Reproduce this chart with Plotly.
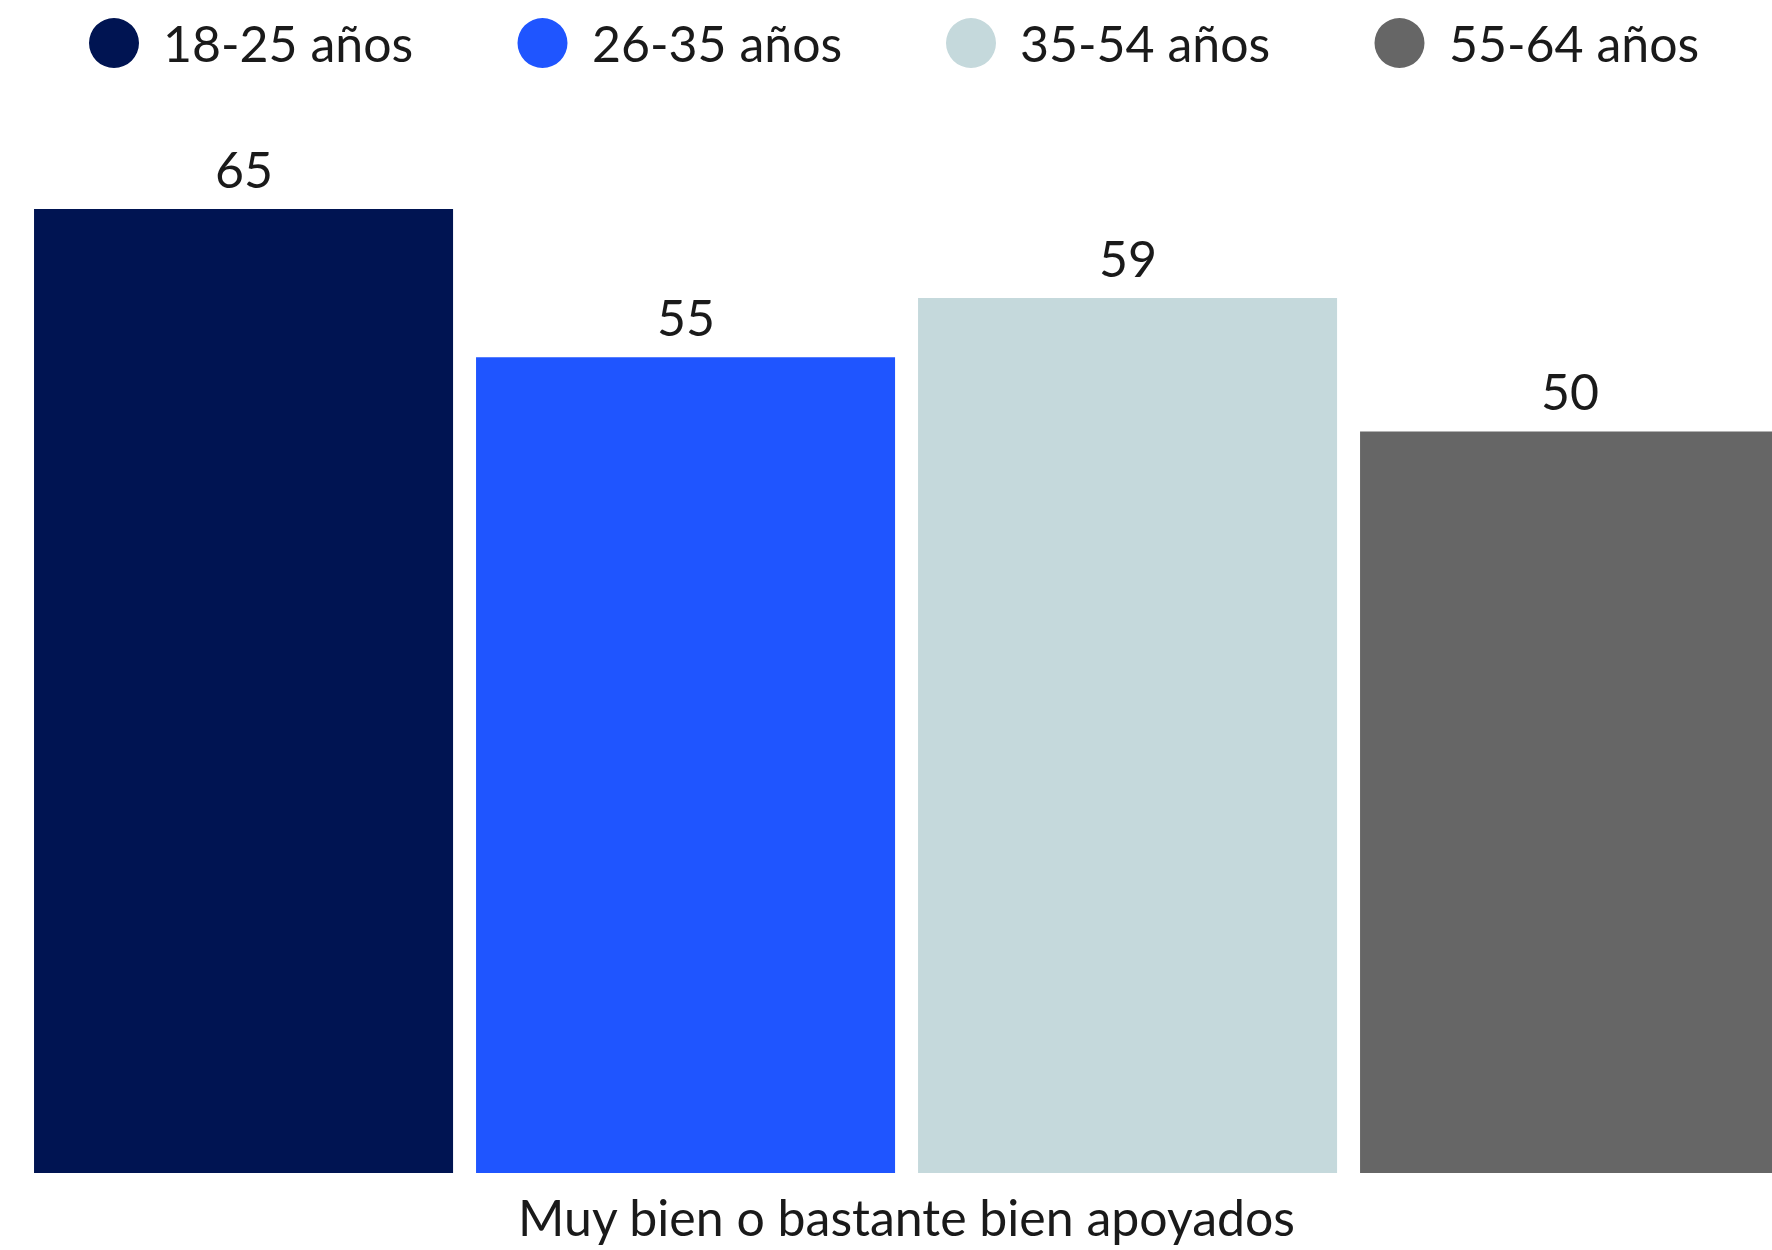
import plotly.graph_objects as go

category = "Muy bien o bastante bien apoyados"
groups = ["18-25 años", "26-35 años", "35-54 años", "55-64 años"]
values = [65, 55, 59, 50]
colors = ["#001452", "#1F55FF", "#C5D9DC", "#666666"]

W, H = 1772, 1250
FONT = "Lato, 'Open Sans', sans-serif"
TXT = "#1a1a1a"
FS = 50

fig = go.Figure()
positions = list(range(len(groups)))
for i, (g, v, c) in enumerate(zip(groups, values, colors)):
    fig.add_trace(go.Bar(x=[positions[i]], y=[v], name=g, marker_color=c,
                         marker_line_width=0, width=0.948, showlegend=False))
    fig.add_annotation(x=positions[i], y=v, text=str(v), showarrow=False,
                       yanchor="bottom", yshift=8,
                       font=dict(family=FONT, size=FS, color=TXT))

# manual legend with large circles
leg_x0, leg_step, leg_y = 114, 428.5, 1.0531
for i, (g, c) in enumerate(zip(groups, colors)):
    cx = (leg_x0 + i * leg_step) / W
    fig.add_shape(type="circle", xref="paper", yref="paper",
                  xsizemode="pixel", ysizemode="pixel",
                  xanchor=cx, yanchor=leg_y, x0=-25, x1=25, y0=-25, y1=25,
                  fillcolor=c, line_width=0)
    fig.add_annotation(xref="paper", yref="paper", x=cx, y=leg_y, xshift=47,
                       text=g, showarrow=False, xanchor="left", yanchor="middle",
                       font=dict(family=FONT, size=FS, color=TXT))

fig.update_layout(
    width=W, height=H,
    margin=dict(l=0, r=0, t=100, b=77),
    plot_bgcolor="white", paper_bgcolor="white",
    showlegend=False,
    xaxis=dict(range=[-0.551, 3.458], tickvals=[sum(positions) / len(positions)],
               ticktext=[category], showgrid=False, zeroline=False, showline=False,
               ticks="", ticklabelstandoff=12,
               tickfont=dict(family=FONT, size=FS, color=TXT)),
    yaxis=dict(range=[0, 72.35], visible=False, showgrid=False, zeroline=False),
)

fig.write_html(
    "out.html",
    config={"displayModeBar": False},
    post_script="document.body.style.margin='0';document.body.style.overflow='hidden';",
)
